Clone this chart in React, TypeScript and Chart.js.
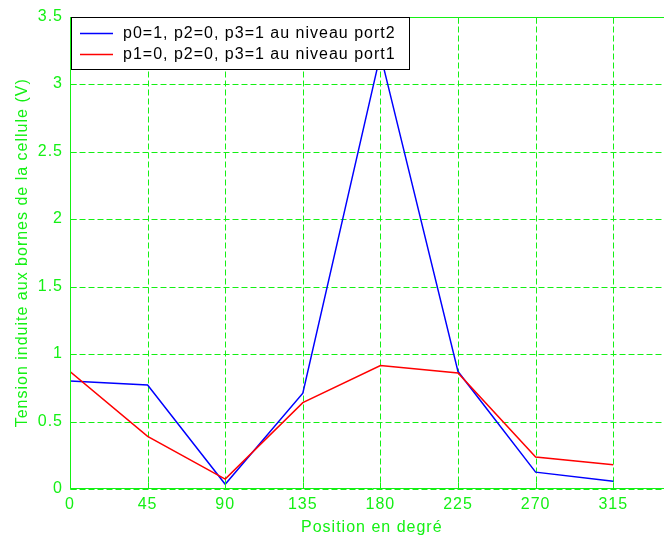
import React, { useEffect, useRef } from "react";
import { Chart, registerables } from "chart.js";

Chart.register(...registerables);

const xPositions = [0, 45, 90, 135, 180, 225, 270, 315];
const bluePort2 = [0.8, 0.77, 0.035, 0.71, 3.22, 0.87, 0.125, 0.057];
const redPort1 = [0.87, 0.39, 0.073, 0.64, 0.915, 0.86, 0.237, 0.18];
const xTicks = [0, 45, 90, 135, 180, 225, 270, 315];
const yTicks = [0, 0.5, 1, 1.5, 2, 2.5, 3, 3.5];
const labelBlue = "p0=1, p2=0, p3=1 au niveau port2";
const labelRed = "p1=0, p2=0, p3=1 au niveau port1";
const xTitle = "Position en degré";
const yTitle = "Tension induite aux bornes de la cellule (V)";

const GREEN = "#14f014";
const FONT = '"Liberation Sans", Arial, sans-serif';

const spacingPlugin = {
  id: "spacing",
  beforeDraw(chart: any) {
    (chart.ctx as any).letterSpacing = "1px";
  },
};

const gridPlugin = {
  id: "dashGrid",
  beforeDatasetsDraw(chart: any) {
    const { ctx, chartArea } = chart;
    const xs = chart.scales.x;
    const ys = chart.scales.y;
    const t = Math.round(chartArea.top) + 0.5;
    const b = Math.round(chartArea.bottom) - 0.5;
    const l = Math.round(chartArea.left) + 0.5;
    const r = Math.round(chartArea.right) + 0.5;
    ctx.save();
    ctx.strokeStyle = GREEN;
    ctx.lineWidth = 1;
    ctx.setLineDash([6, 3]);
    xTicks.forEach((v) => {
      const px = Math.round(xs.getPixelForValue(v)) + 0.5;
      ctx.beginPath();
      ctx.moveTo(px, t);
      ctx.lineTo(px, b);
      ctx.stroke();
    });
    yTicks.forEach((v) => {
      const py = Math.round(ys.getPixelForValue(v)) + 0.5;
      ctx.beginPath();
      ctx.moveTo(l, py);
      ctx.lineTo(r, py);
      ctx.stroke();
    });
    ctx.restore();
  },
};

const framePlugin = {
  id: "frame",
  afterDatasetsDraw(chart: any) {
    const { ctx, chartArea } = chart;
    const l = Math.round(chartArea.left) + 0.5;
    const r = Math.round(chartArea.right) + 0.5;
    const t = Math.round(chartArea.top) + 0.5;
    const b = Math.round(chartArea.bottom) - 0.5;
    ctx.save();
    ctx.setLineDash([]);
    ctx.strokeStyle = GREEN;
    ctx.lineWidth = 1;
    ctx.beginPath();
    ctx.moveTo(l, b);
    ctx.lineTo(l, t);
    ctx.lineTo(r, t);
    ctx.lineTo(r, b);
    ctx.lineTo(l, b);
    const xs = chart.scales.x;
    const ys = chart.scales.y;
    const len = 6;
    xTicks.forEach((v) => {
      const px = Math.round(xs.getPixelForValue(v)) + 0.5;
      ctx.moveTo(px, b);
      ctx.lineTo(px, b - len);
      ctx.moveTo(px, t);
      ctx.lineTo(px, t + len);
    });
    yTicks.forEach((v) => {
      const py = Math.round(ys.getPixelForValue(v)) + 0.5;
      ctx.moveTo(l, py);
      ctx.lineTo(l + len, py);
      ctx.moveTo(r, py);
      ctx.lineTo(r - len, py);
    });
    ctx.stroke();
    ctx.restore();
  },
};

const legendPlugin = {
  id: "boxLegend",
  afterDraw(chart: any) {
    const { ctx } = chart;
    const x0 = 71.5;
    const y0 = 17.5;
    const w = 338;
    const h = 52;
    ctx.save();
    ctx.setLineDash([]);
    ctx.fillStyle = "#ffffff";
    ctx.fillRect(x0, y0, w, h);
    ctx.strokeStyle = "#000000";
    ctx.lineWidth = 1;
    ctx.strokeRect(x0, y0, w, h);
    const rows = [33, 54];
    chart.data.datasets.forEach((ds: any, i: number) => {
      const y = rows[i];
      ctx.strokeStyle = ds.borderColor;
      ctx.lineWidth = 1.5;
      ctx.beginPath();
      ctx.moveTo(80, y + 0.5);
      ctx.lineTo(113, y + 0.5);
      ctx.stroke();
      ctx.fillStyle = "#000000";
      ctx.font = `16px ${FONT}`;
      ctx.textBaseline = "middle";
      ctx.textAlign = "left";
      (ctx as any).letterSpacing = "1px";
      ctx.fillText(ds.label, 123, y + 1);
    });
    ctx.restore();
  },
};

export default function App() {
  const ref = useRef<HTMLCanvasElement | null>(null);

  useEffect(() => {
    if (!ref.current) return;
    const chart = new Chart(ref.current, {
      type: "line",
      data: {
        datasets: [
          {
            label: labelBlue,
            data: xPositions.map((x, i) => ({ x, y: bluePort2[i] })),
            borderColor: "#0000ff",
            backgroundColor: "#0000ff",
            borderWidth: 1.5,
            pointRadius: 0,
            tension: 0,
            order: 1,
          },
          {
            label: labelRed,
            data: xPositions.map((x, i) => ({ x, y: redPort1[i] })),
            borderColor: "#ff0000",
            backgroundColor: "#ff0000",
            borderWidth: 1.5,
            pointRadius: 0,
            tension: 0,
            order: 0,
          },
        ],
      },
      options: {
        responsive: false,
        animation: false,
        devicePixelRatio: 1,
        layout: { padding: { left: 0, top: 16, right: 26.4, bottom: 0 } },
        plugins: {
          legend: { display: false },
          tooltip: { enabled: false },
        },
        scales: {
          x: {
            type: "linear",
            min: 0,
            max: 350,
            afterBuildTicks: (scale: any) => {
              scale.ticks = xTicks.map((v) => ({ value: v }));
            },
            afterFit: (scale: any) => {
              scale.height = 51;
            },
            grid: { display: false, drawTicks: false },
            border: { display: false },
            ticks: {
              color: GREEN,
              padding: 6,
              maxRotation: 0,
              autoSkip: false,
              font: { family: FONT, size: 16 },
              callback: (v: any) => String(v),
            },
            title: {
              display: true,
              text: xTitle,
              color: GREEN,
              font: { family: FONT, size: 16 },
              padding: { top: 0, bottom: 3 },
            },
          },
          y: {
            type: "linear",
            min: 0,
            max: 3.5,
            afterBuildTicks: (scale: any) => {
              scale.ticks = yTicks.map((v) => ({ value: v }));
            },
            afterFit: (scale: any) => {
              scale.width = 70;
            },
            grid: { display: false, drawTicks: false },
            border: { display: false },
            ticks: {
              color: GREEN,
              padding: 7,
              autoSkip: false,
              font: { family: FONT, size: 16 },
              callback: (v: any) => String(v),
            },
            title: {
              display: true,
              text: yTitle,
              color: GREEN,
              font: { family: FONT, size: 16 },
              padding: { top: 13, bottom: 0 },
            },
          },
        },
      },
      plugins: [spacingPlugin, gridPlugin, framePlugin, legendPlugin],
    } as any);
    return () => chart.destroy();
  }, []);

  return (
    <div
      style={{
        position: "absolute",
        left: 0,
        top: 0,
        width: 664,
        height: 540,
        overflow: "hidden",
        background: "#ffffff",
      }}
    >
      <canvas ref={ref} width={700} height={540} style={{ width: 700, height: 540, display: "block" }} />
    </div>
  );
}
